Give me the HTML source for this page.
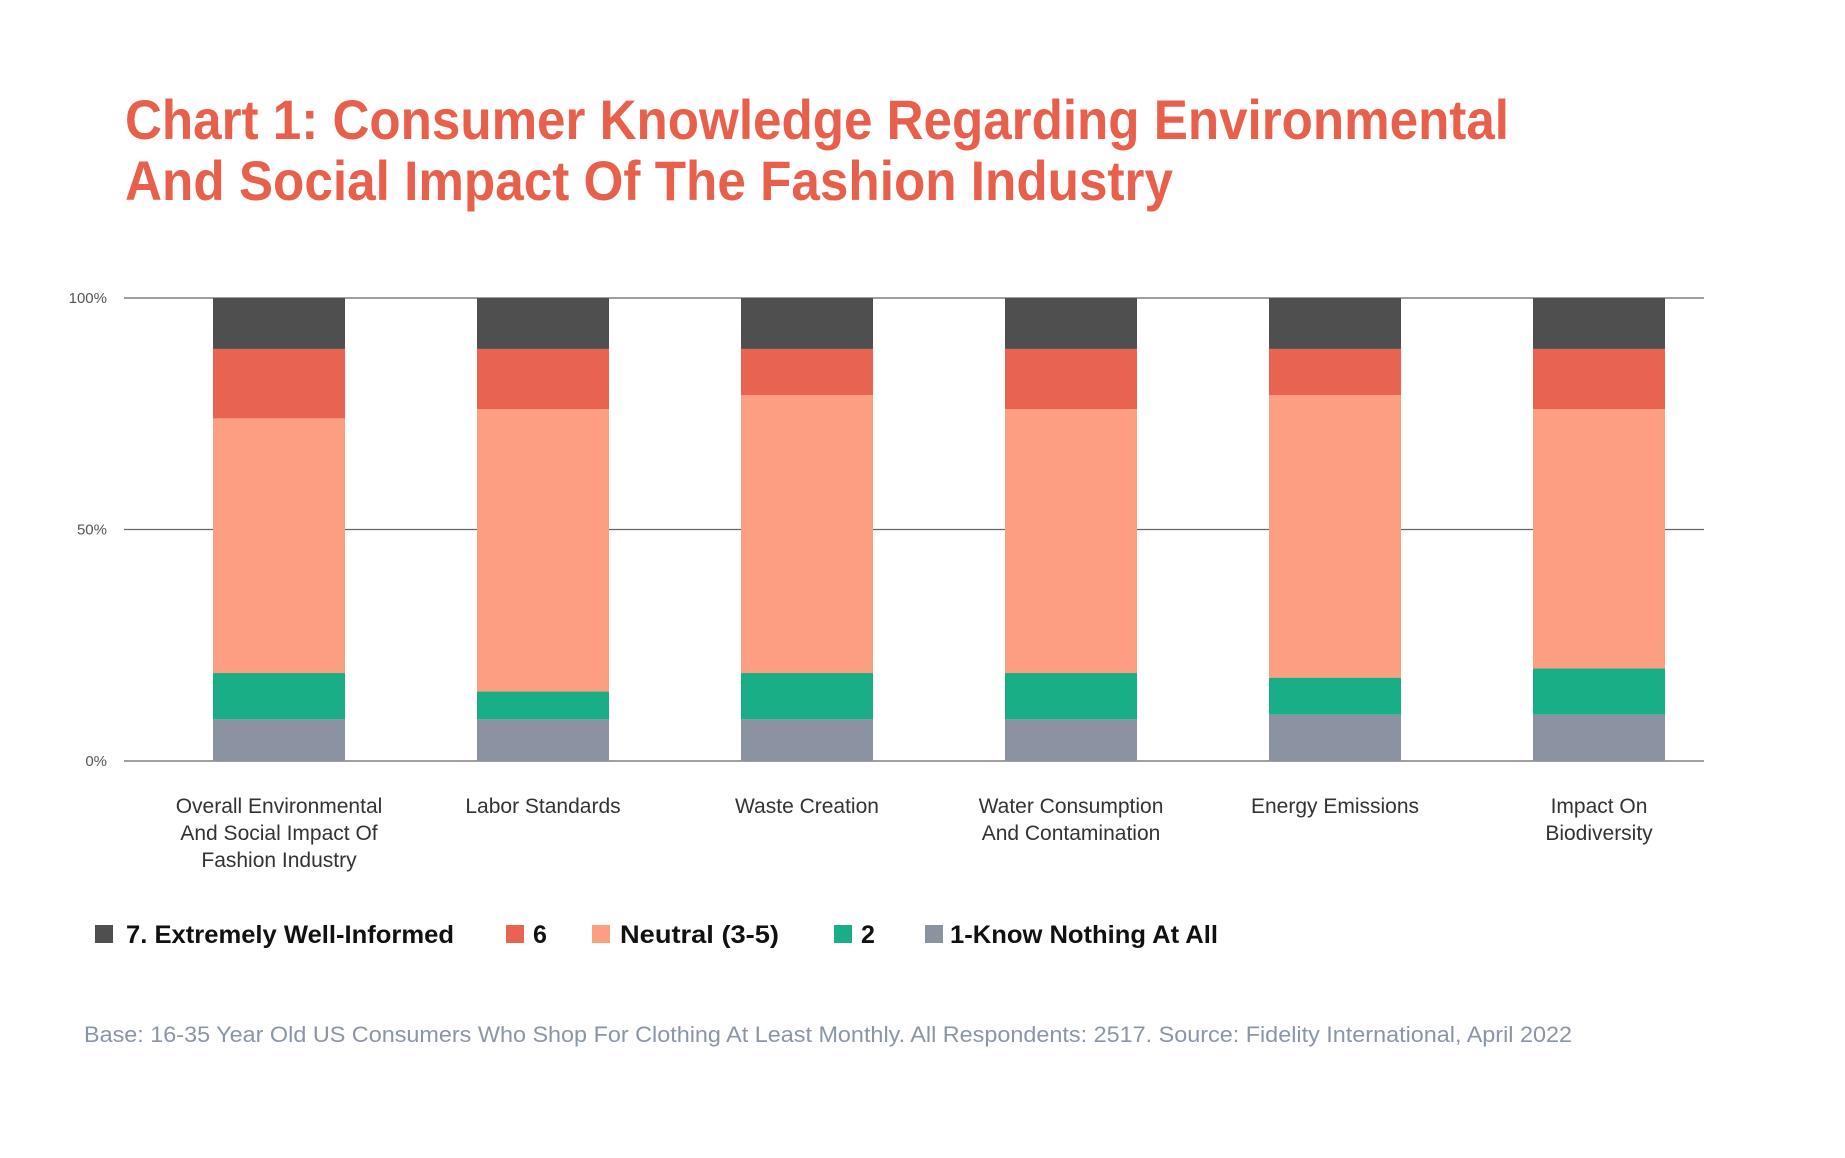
<!DOCTYPE html>
<html><head><meta charset="utf-8"><style>
html,body{margin:0;padding:0;background:#fff;}
svg{display:block;font-family:"Liberation Sans",Arial,sans-serif;}
</style></head><body>
<svg id="chart" width="1845" height="1158" viewBox="0 0 1845 1158" xmlns="http://www.w3.org/2000/svg">
<text x="125" y="139" font-size="56" font-weight="bold" fill="#e8604c" textLength="1384" lengthAdjust="spacingAndGlyphs">Chart 1: Consumer Knowledge Regarding Environmental</text>
<text x="125" y="200" font-size="56" font-weight="bold" fill="#e8604c" textLength="1048" lengthAdjust="spacingAndGlyphs">And Social Impact Of The Fashion Industry</text>
<g id="grid"></g>
<g id="bars"></g>
<g id="xlabels"></g>
<g>
<rect x="95" y="925" width="18" height="18" fill="#4f4f4f"/>
<text x="126" y="943" font-size="25" font-weight="bold" fill="#111" textLength="328" lengthAdjust="spacingAndGlyphs">7. Extremely Well-Informed</text>
<rect x="506" y="925" width="18" height="18" fill="#e86350"/>
<text x="533" y="943" font-size="25" font-weight="bold" fill="#111">6</text>
<rect x="592" y="925" width="18" height="18" fill="#fb9e82"/>
<text x="620" y="943" font-size="25" font-weight="bold" fill="#111" textLength="159" lengthAdjust="spacingAndGlyphs">Neutral (3-5)</text>
<rect x="834" y="925" width="18" height="18" fill="#19ae85"/>
<text x="861" y="943" font-size="25" font-weight="bold" fill="#111">2</text>
<rect x="925" y="925" width="18" height="18" fill="#8b93a3"/>
<text x="950" y="943" font-size="25" font-weight="bold" fill="#111" textLength="268" lengthAdjust="spacingAndGlyphs">1-Know Nothing At All</text>
</g>
<text x="84" y="1042" font-size="22" fill="#8a96a6" textLength="1488" lengthAdjust="spacingAndGlyphs">Base: 16-35 Year Old US Consumers Who Shop For Clothing At Least Monthly. All Respondents: 2517. Source: Fidelity International, April 2022</text>
</svg>
<script>
const categories = [["Overall Environmental","And Social Impact Of","Fashion Industry"],["Labor Standards"],["Waste Creation"],["Water Consumption","And Contamination"],["Energy Emissions"],["Impact On","Biodiversity"]];
const knowNothing = [9, 9, 9, 9, 10, 10];
const two = [10, 6, 10, 10, 8, 10];
const neutral = [55, 61, 60, 57, 61, 56];
const six = [15, 13, 10, 13, 10, 13];
const seven = [11, 11, 11, 11, 11, 11];
const yTicks = [0, 50, 100];
const yTickLabels = ["0%", "50%", "100%"];

const NS = "http://www.w3.org/2000/svg";
const plotL = 124, plotR = 1704, y0 = 761, y100 = 298;
const yScale = v => y0 - (v / 100) * (y0 - y100);
const xCenter = i => 279 + 264 * i;
const barW = 132;
function mk(tag, attrs, parent) {
  const e = document.createElementNS(NS, tag);
  for (const k in attrs) e.setAttribute(k, attrs[k]);
  parent.appendChild(e);
  return e;
}
const grid = document.getElementById('grid');
yTicks.forEach((t, i) => {
  const l = mk('line', {x1: plotL, x2: plotR, y1: yScale(t), y2: yScale(t), stroke: '#666', 'stroke-width': 1.3}, grid);
  
  
  const tx = mk('text', {x: 107, y: yScale(t) + 5, 'font-size': 15, fill: '#555', 'text-anchor': 'end'}, grid);
  tx.textContent = yTickLabels[i];
  
  
});
const series = [
  {vals: knowNothing, color: '#8b93a3', name: 'know-nothing'},
  {vals: two, color: '#19ae85', name: 'two'},
  {vals: neutral, color: '#fb9e82', name: 'neutral'},
  {vals: six, color: '#e86350', name: 'six'},
  {vals: seven, color: '#4f4f4f', name: 'seven'}
];
const bars = document.getElementById('bars');
categories.forEach((c, i) => {
  let cum = 0;
  series.forEach(s => {
    const v = s.vals[i];
    const top = yScale(cum + v), bot = yScale(cum);
    const r = mk('rect', {x: xCenter(i) - barW / 2, y: top, width: barW, height: bot - top, fill: s.color}, bars);
    
    
    cum += v;
  });
});
const xl = document.getElementById('xlabels');
categories.forEach((lines, i) => {
  lines.forEach((ln, j) => {
    const t = mk('text', {x: xCenter(i), y: 813 + j * 27, 'font-size': 21, fill: '#333', 'text-anchor': 'middle'}, xl);
    t.textContent = ln;
    
    
  });
});
</script>
</body></html>
